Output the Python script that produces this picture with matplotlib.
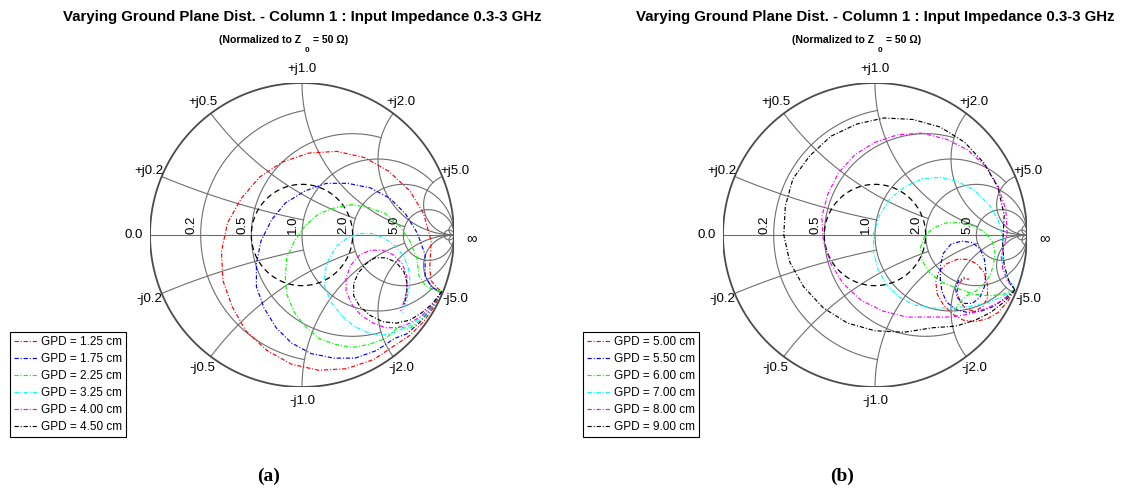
import numpy as np
import matplotlib
matplotlib.use("Agg")
import matplotlib.pyplot as plt
from matplotlib.lines import Line2D

plt.rcParams['font.family'] = ['Liberation Sans', 'DejaVu Sans']

# ---- measured input reflection coefficient (Re, Im), 0.3-3 GHz, Z0 = 50 ohm ----
gpd_a = ["1.25", "1.75", "2.25", "3.25", "4.00", "4.50"]
gpd_b = ["5.00", "5.50", "6.00", "7.00", "8.00", "9.00"]
series_colors = ["#ff0000", "#0000ff", "#00ff00", "#00ffff", "#ff00ff", "#000000"]

gamma_a1 = [(0.92, -0.37), (0.87, -0.47), (0.80, -0.57), (0.71, -0.66), (0.62, -0.72), (0.47, -0.82),
            (0.29, -0.88), (0.11, -0.89), (-0.07, -0.85), (-0.23, -0.76), (-0.37, -0.63), (-0.46, -0.47),
            (-0.52, -0.30), (-0.53, -0.11), (-0.49, 0.08), (-0.40, 0.24), (-0.28, 0.38), (-0.13, 0.48),
            (0.05, 0.54), (0.23, 0.55), (0.41, 0.51), (0.57, 0.42), (0.71, 0.29), (0.80, 0.14),
            (0.85, -0.04), (0.84, -0.22), (0.85, -0.30), (0.89, -0.35), (0.92, -0.37)]
gamma_a2 = [(0.92, -0.37), (0.86, -0.47), (0.78, -0.57), (0.69, -0.65), (0.61, -0.68), (0.49, -0.76),
            (0.35, -0.81), (0.21, -0.81), (0.06, -0.78), (-0.07, -0.71), (-0.17, -0.61), (-0.25, -0.48),
            (-0.30, -0.34), (-0.30, -0.19), (-0.27, -0.04), (-0.20, 0.10), (-0.11, 0.21), (0.02, 0.29),
            (0.16, 0.34), (0.30, 0.34), (0.45, 0.31), (0.58, 0.24), (0.68, 0.14), (0.76, 0.01),
            (0.81, -0.13), (0.81, -0.27), (0.85, -0.34), (0.90, -0.37)]
gamma_a3 = [(0.92, -0.37), (0.86, -0.47), (0.78, -0.56), (0.70, -0.62), (0.64, -0.60), (0.55, -0.68),
            (0.44, -0.72), (0.33, -0.74), (0.22, -0.72), (0.11, -0.68), (0.02, -0.60), (-0.05, -0.51),
            (-0.10, -0.39), (-0.11, -0.27), (-0.10, -0.15), (-0.05, -0.04), (0.02, 0.06), (0.11, 0.14),
            (0.22, 0.18), (0.33, 0.20), (0.44, 0.18), (0.55, 0.14), (0.64, 0.06), (0.71, -0.04),
            (0.755, -0.15), (0.77, -0.27), (0.81, -0.33), (0.86, -0.36), (0.92, -0.37)]
gamma_a4 = [(0.92, -0.37), (0.86, -0.46), (0.79, -0.54), (0.70, -0.60), (0.61, -0.64), (0.52, -0.66),
            (0.43, -0.64), (0.34, -0.60), (0.26, -0.53), (0.19, -0.44), (0.15, -0.34), (0.15, -0.24),
            (0.18, -0.15), (0.23, -0.07), (0.30, -0.02), (0.38, 0.01), (0.46, 0.01), (0.54, -0.02),
            (0.61, -0.07), (0.67, -0.14), (0.70, -0.22), (0.71, -0.30), (0.70, -0.38), (0.68, -0.45),
            (0.66, -0.51)]
gamma_a5 = [(0.92, -0.37), (0.86, -0.46), (0.79, -0.53), (0.71, -0.58), (0.63, -0.61), (0.55, -0.61),
            (0.47, -0.58), (0.39, -0.53), (0.33, -0.46), (0.29, -0.37), (0.29, -0.28), (0.32, -0.20),
            (0.38, -0.13), (0.45, -0.10), (0.53, -0.10), (0.60, -0.13), (0.66, -0.19), (0.69, -0.27),
            (0.69, -0.36), (0.67, -0.44), (0.65, -0.50)]
gamma_a6 = [(0.92, -0.37), (0.86, -0.45), (0.79, -0.51), (0.71, -0.56), (0.62, -0.58), (0.53, -0.57),
            (0.45, -0.53), (0.38, -0.47), (0.34, -0.40), (0.34, -0.32), (0.37, -0.25), (0.42, -0.19),
            (0.48, -0.15), (0.55, -0.15), (0.62, -0.18), (0.67, -0.24), (0.69, -0.31), (0.69, -0.39),
            (0.67, -0.46)]

gamma_b1 = [(0.92, -0.36), (0.87, -0.44), (0.81, -0.51), (0.74, -0.55), (0.66, -0.57), (0.58, -0.56),
            (0.51, -0.52), (0.45, -0.46), (0.41, -0.39), (0.40, -0.31), (0.42, -0.24), (0.47, -0.19),
            (0.54, -0.16), (0.61, -0.16), (0.67, -0.19), (0.72, -0.25), (0.74, -0.33), (0.74, -0.41),
            (0.71, -0.47), (0.66, -0.50), (0.60, -0.49), (0.56, -0.44), (0.54, -0.38), (0.55, -0.32),
            (0.58, -0.29), (0.62, -0.29)]
gamma_b2 = [(0.92, -0.36), (0.85, -0.42), (0.78, -0.47), (0.70, -0.50), (0.61, -0.51), (0.53, -0.49),
            (0.47, -0.44), (0.44, -0.37), (0.43, -0.29), (0.43, -0.20), (0.45, -0.12), (0.50, -0.06),
            (0.57, -0.04), (0.64, -0.05), (0.69, -0.09), (0.72, -0.16), (0.73, -0.25), (0.72, -0.34),
            (0.69, -0.41), (0.64, -0.45), (0.58, -0.45), (0.54, -0.41), (0.53, -0.35), (0.55, -0.30),
            (0.59, -0.28)]
gamma_b3 = [(0.92, -0.36), (0.84, -0.39), (0.75, -0.40), (0.65, -0.39), (0.54, -0.35), (0.44, -0.31),
            (0.36, -0.25), (0.31, -0.17), (0.30, -0.08), (0.33, 0.00), (0.39, 0.05), (0.47, 0.08),
            (0.56, 0.08), (0.65, 0.06), (0.72, 0.02), (0.77, -0.04), (0.79, -0.11), (0.78, -0.19),
            (0.76, -0.26), (0.72, -0.32), (0.66, -0.37), (0.60, -0.40), (0.55, -0.45), (0.52, -0.51)]
gamma_b4 = [(0.92, -0.36), (0.83, -0.41), (0.73, -0.45), (0.62, -0.47), (0.50, -0.48), (0.38, -0.48),
            (0.26, -0.46), (0.16, -0.41), (0.08, -0.33), (0.02, -0.23), (-0.01, -0.11), (-0.01, 0.01),
            (0.03, 0.13), (0.10, 0.24), (0.20, 0.32), (0.31, 0.37), (0.43, 0.38), (0.55, 0.35),
            (0.66, 0.29), (0.75, 0.20), (0.81, 0.10), (0.84, -0.01), (0.84, -0.12), (0.84, -0.22),
            (0.88, -0.30), (0.92, -0.35)]
gamma_b5 = [(0.92, -0.36), (0.84, -0.43), (0.74, -0.48), (0.62, -0.52), (0.50, -0.54), (0.37, -0.54),
            (0.21, -0.54), (0.05, -0.50), (-0.09, -0.43), (-0.21, -0.32), (-0.29, -0.19), (-0.34, -0.04),
            (-0.35, 0.12), (-0.31, 0.27), (-0.24, 0.41), (-0.13, 0.53), (0.00, 0.61), (0.15, 0.66),
            (0.31, 0.67), (0.47, 0.63), (0.61, 0.56), (0.73, 0.45), (0.81, 0.32), (0.86, 0.17),
            (0.87, 0.01), (0.83, -0.14), (0.84, -0.22), (0.87, -0.30), (0.92, -0.36)]
gamma_b6 = [(0.92, -0.36), (0.85, -0.44), (0.76, -0.51), (0.66, -0.56), (0.53, -0.60), (0.38, -0.61),
            (0.19, -0.64), (0.00, -0.63), (-0.18, -0.58), (-0.34, -0.48), (-0.47, -0.34), (-0.56, -0.18),
            (-0.60, 0.00), (-0.59, 0.19), (-0.54, 0.37), (-0.43, 0.52), (-0.29, 0.65), (-0.12, 0.73),
            (0.06, 0.77), (0.25, 0.76), (0.43, 0.71), (0.59, 0.61), (0.72, 0.47), (0.81, 0.31),
            (0.85, 0.13), (0.84, -0.06), (0.85, -0.20), (0.88, -0.30), (0.92, -0.36)]

traces_a = [gamma_a1, gamma_a2, gamma_a3, gamma_a4, gamma_a5, gamma_a6]
traces_b = [gamma_b1, gamma_b2, gamma_b3, gamma_b4, gamma_b5, gamma_b6]

# reference VSWR circle
vswr_ref = 2.0

# Smith grid: resistance circles (r, |x| limit) and reactance arcs (x, r limit)
grid_values = [0.2, 0.5, 1.0, 2.0, 5.0]
r_circles = [(0.2, 1.0), (0.5, 2.0), (1.0, 5.0), (2.0, np.inf), (5.0, np.inf), (30.0, np.inf)]
x_arcs = [(0.2, 1.0), (0.5, 2.0), (1.0, 5.0), (2.0, np.inf), (5.0, np.inf), (30.0, np.inf)]

title_text = "Varying Ground Plane Dist. - Column 1 : Input Impedance 0.3-3 GHz"

W, H = 1122, 491
fig = plt.figure(figsize=(W / 100, H / 100), dpi=100)

DASHDOT = (0, (3.6, 1.6, 0.9, 1.6))
GRID_C = "#6e6e6e"


def to_gamma(z):
    return (z - 1) / (z + 1)


def draw_grid(ax):
    t = np.linspace(0, 2 * np.pi, 721)
    ax.plot(np.cos(t), np.sin(t), color="#4a4a4a", lw=1.3, zorder=2)
    ax.plot([-1, 1], [0, 0], color=GRID_C, lw=0.8, zorder=1)
    for r, xmax in r_circles:
        a = np.arctan(xmax)
        x = np.tan(np.linspace(-a, a, 600))
        g = to_gamma(r + 1j * x)
        ax.plot(g.real, g.imag, color=GRID_C, lw=0.8, zorder=1)
    for xv, rmax in x_arcs:
        a = np.arctan(rmax)
        r = np.tan(np.linspace(0, a, 600))
        for s in (1, -1):
            g = to_gamma(r + 1j * s * xv)
            ax.plot(g.real, g.imag, color=GRID_C, lw=0.8, zorder=1)

    fs = 9.5
    for v in grid_values:
        for s in (1, -1):
            g = to_gamma(1j * s * v) * 1.09
            ax.text(g.real, g.imag, ("+j" if s > 0 else "-j") + f"{v:.1f}",
                    ha="center", va="center", fontsize=fs)
        gx = (v - 1) / (v + 1)
        ax.text(gx - 0.02, 0.004, f"{v:.1f}", rotation=90, ha="right", va="bottom", fontsize=fs)
    ax.text(-1.105, 0.0, "0.0", ha="center", va="center", fontsize=fs)
    ax.text(1.115, -0.02, "\u221e", ha="center", va="center", fontsize=fs + 1)

    # VSWR = 2 reference circle
    rho = (vswr_ref - 1) / (vswr_ref + 1)
    ax.plot(rho * np.cos(t), rho * np.sin(t), color="black", lw=0.9,
            linestyle=(0, (4.5, 3.0)), zorder=3)


def draw_panel(cx_px, traces, labels, tag):
    R = 152
    cy_px = 235
    ax = fig.add_axes([(cx_px - R) / W, (H - cy_px - R) / H, 2 * R / W, 2 * R / H])
    ax.set_xlim(-1, 1)
    ax.set_ylim(-1, 1)
    ax.axis("off")
    draw_grid(ax)
    handles = []
    for pts, c, lab in zip(traces, series_colors, labels):
        arr = np.array(pts)
        ax.plot(arr[:, 0], arr[:, 1], color=c, lw=0.85, linestyle=DASHDOT, zorder=4)
        handles.append(Line2D([], [], color=c, lw=0.85, linestyle=DASHDOT))
    for t in ax.texts:
        t.set_clip_on(False)

    fig.text(cx_px / W, 1 - 17 / H, title_text, ha="center", va="center",
             fontsize=10.8, fontweight="bold")
    # subtitle with a dropped subscript
    fig.text((cx_px - 1) / W, 1 - 40 / H, "(Normalized to Z", ha="right", va="center",
             fontsize=7.6, fontweight="bold")
    fig.text((cx_px + 5) / W, 1 - 51 / H, "0", ha="center", va="center",
             fontsize=5.8, fontweight="bold")
    fig.text((cx_px + 11) / W, 1 - 40 / H, "= 50 \u03a9)", ha="left", va="center",
             fontsize=7.6, fontweight="bold")

    leg = fig.legend(handles, [f"GPD = {g} cm" for g in labels], loc="lower left",
                     bbox_to_anchor=((cx_px - 292) / W, (H - 437) / H),
                     fontsize=8.5, handlelength=2.0, handletextpad=0.25, borderpad=0.35,
                     labelspacing=0.42, borderaxespad=0, fancybox=False, framealpha=1,
                     edgecolor="black")
    leg.get_frame().set_linewidth(0.8)

    fig.text((cx_px - 33) / W, 1 - 476 / H, tag, ha="center", va="center",
             fontsize=14, fontweight="bold", family=["Liberation Serif", "DejaVu Serif"])


draw_panel(302, traces_a, gpd_a, "(a)")
draw_panel(875, traces_b, gpd_b, "(b)")

fig.savefig("out.png", dpi=100)
